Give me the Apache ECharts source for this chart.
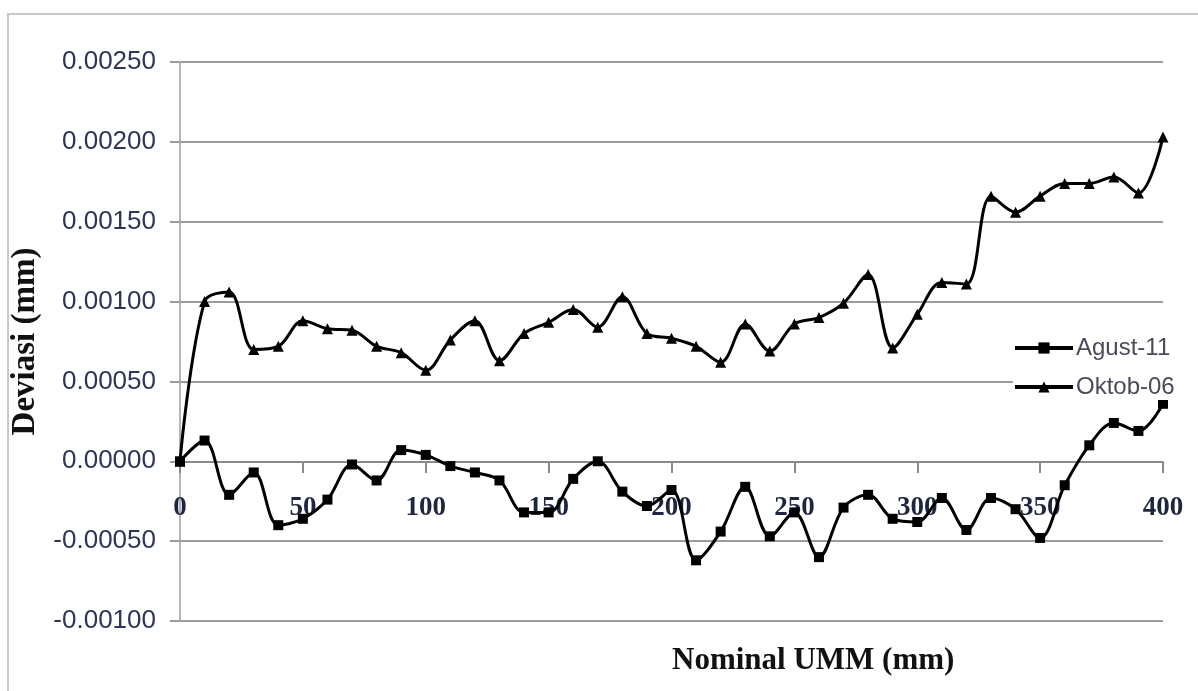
<!DOCTYPE html>
<html>
<head>
<meta charset="utf-8">
<title>Deviasi UMM</title>
<script src="https://cdn.jsdelivr.net/npm/echarts@6/dist/echarts.min.js"></script>
<style>
  html, body { margin: 0; padding: 0; background: #fff; }
  #chart { width: 1198px; height: 691px; }
</style>
</head>
<body>
<div id="chart"></div>
<script>
// --- data ---
const nominal = [0, 10, 20, 30, 40, 50, 60, 70, 80, 90, 100, 110, 120, 130, 140, 150, 160, 170, 180, 190, 200,
  210, 220, 230, 240, 250, 260, 270, 280, 290, 300, 310, 320, 330, 340, 350, 360, 370, 380, 390, 400]

const agust11 = [0, 0.00013, -0.00021, -0.00007, -0.00040, -0.00036, -0.00024, -0.00002, -0.00012, 0.00007, 0.00004,
  -0.00003, -0.00007, -0.00012, -0.00032, -0.00032, -0.00011, 0.00000, -0.00019, -0.00028, -0.00018,
  -0.00062, -0.00044, -0.00016, -0.00047, -0.00032, -0.00060, -0.00029, -0.00021, -0.00036, -0.00038,
  -0.00023, -0.00043, -0.00023, -0.00030, -0.00048, -0.00015, 0.00010, 0.00024, 0.00019, 0.00036]

const oktob06 = [0, 0.00100, 0.00106, 0.00070, 0.00072, 0.00088, 0.00083, 0.00082, 0.00072, 0.00068, 0.00057,
  0.00076, 0.00088, 0.00063, 0.00080, 0.00087, 0.00095, 0.00084, 0.00103, 0.00080, 0.00077,
  0.00072, 0.00062, 0.00086, 0.00069, 0.00086, 0.00090, 0.00099, 0.00117, 0.00071, 0.00092,
  0.00112, 0.00111, 0.00166, 0.00156, 0.00166, 0.00174, 0.00174, 0.00178, 0.00168, 0.00203]

const xTicks = { min: 0, max: 400, step: 50 }
const yTicks = { min: -0.001, max: 0.0025, step: 0.0005 }

const chart = echarts.init(document.getElementById('chart'))

const pairs = arr => nominal.map((x, i) => [x, arr[i]])

const lineSeries = (name, values, symbol) => ({
  name,
  type: 'line',
  data: pairs(values),
  smooth: 0.35,
  symbol,
  symbolSize: symbol === 'rect' ? 10 : 11,
  lineStyle: { color: '#000', width: 3 },
  itemStyle: { color: '#000', borderWidth: 0 },
  emphasis: { disabled: true }
})

// grid height 559px for 3.5 mm*1e-3 -> zero line sits 159px above the grid bottom
const zeroOffset = -159

const option = {
  backgroundColor: '#fff',
  animation: false,
  graphic: [
    {
      type: 'rect',
      shape: { x: 8, y: 14, width: 1200, height: 690 },
      style: { fill: 'none', stroke: '#c8c8c8', lineWidth: 2 },
      silent: true
    },
    {
      type: 'text',
      left: 672,
      top: 645,
      style: {
        text: 'Nominal UMM (mm)',
        font: 'bold 31px "Liberation Serif", serif',
        fill: '#111',
        textAlign: 'center',
        textVerticalAlign: 'middle'
      }
    }
  ],
  grid: { left: 180, right: 35, top: 62, bottom: 70 },
  legend: {
    orient: 'vertical',
    left: 1013,
    top: 335,
    itemWidth: 58,
    itemHeight: 14,
    itemGap: 15,
    backgroundColor: '#fff',
    padding: [1, 2, 1, 0],
    lineStyle: { width: 4, color: '#000' },
    textStyle: { fontFamily: '"Liberation Sans", sans-serif', fontSize: 24, color: '#4a4a5a', padding: [0, 0, 0, -2] },
    data: ['Agust-11', 'Oktob-06']
  },
  xAxis: {
    type: 'value',
    min: xTicks.min,
    max: xTicks.max,
    interval: xTicks.step,
    position: 'bottom',
    offset: zeroOffset,
    axisLine: { onZero: false, lineStyle: { color: '#8a8a8a', width: 2 } },
    axisTick: { show: true, length: 11, lineStyle: { color: '#8a8a8a', width: 2 } },
    splitLine: { show: false },
    axisLabel: {
      margin: 33,
      fontFamily: '"Liberation Serif", serif',
      fontWeight: 'bold',
      fontSize: 27,
      color: '#1d2540'
    }
  },
  yAxis: {
    type: 'value',
    min: yTicks.min,
    max: yTicks.max,
    interval: yTicks.step,
    name: 'Deviasi (mm)',
    nameLocation: 'middle',
    nameGap: 123,
    nameTextStyle: {
      fontFamily: '"Liberation Serif", serif',
      fontWeight: 'bold',
      fontSize: 33,
      color: '#111'
    },
    axisLine: { show: true, onZero: false, lineStyle: { color: '#b5b5b5', width: 2 } },
    axisTick: { show: true, length: 10, lineStyle: { color: '#9a9a9a', width: 2 } },
    splitLine: { show: true, lineStyle: { color: '#9c9c9c', width: 2 } },
    axisLabel: {
      margin: 24,
      fontFamily: '"Liberation Sans", sans-serif',
      fontSize: 26,
      color: '#2e3658',
      formatter: v => v.toFixed(5)
    }
  },
  series: [
    lineSeries('Agust-11', agust11, 'rect'),
    lineSeries('Oktob-06', oktob06, 'triangle')
  ]
}

chart.setOption(option)
window.addEventListener('resize', () => chart.resize())
</script>
</body>
</html>
